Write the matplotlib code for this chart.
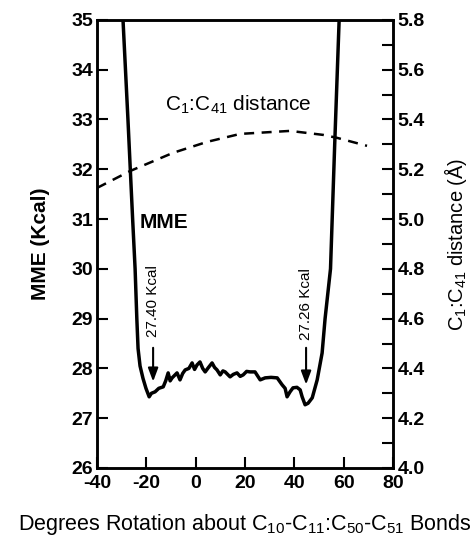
import numpy as np
import matplotlib
matplotlib.use('Agg')
import matplotlib.pyplot as plt

plt.rcParams['font.family'] = ['Liberation Sans', 'DejaVu Sans']
plt.rcParams['mathtext.default'] = 'regular'
plt.rcParams['axes.unicode_minus'] = False

# MME curve (Kcal) vs rotation angle (deg)
mme_x = [-29.5, -27.5, -25.6, -24.6, -23.9, -23.4, -22.6, -21.4, -20.2, -18.9,
         -18.0, -16.5, -15.0, -13.2, -12.2, -11.2, -10.4, -9.6, -8.6, -7.6,
         -6.4, -5.3, -4.3, -2.8, -1.5, -0.5, 0.5, 1.7, 2.8, 3.8,
         5.0, 6.6, 7.6, 8.6, 9.9, 11.0, 11.9, 13.9, 15.2, 16.7, 18.0, 19.2,
         20.6, 22.0, 24.0, 26.1, 28.1, 30.5, 33.0, 35.0, 36.2, 37.0, 38.2,
         39.4, 41.0, 42.3, 43.1, 44.3, 45.5, 47.2, 49.2, 51.2, 52.4, 54.6,
         56.3, 58.1]
mme_y = [35.0, 33.0, 31.0, 30.0, 29.0, 28.4, 28.05, 27.8, 27.6, 27.43,
         27.5, 27.53, 27.6, 27.63, 27.75, 27.91, 27.75, 27.81, 27.86, 27.91,
         27.77, 27.9, 27.97, 28.0, 28.11, 27.98, 28.07, 28.13, 28.0, 27.93,
         28.01, 28.11, 28.02, 27.97, 27.87, 27.95, 27.93, 27.83, 27.88, 27.91, 27.84, 27.87,
         27.94, 27.93, 27.93, 27.77, 27.81, 27.82, 27.81, 27.67, 27.6, 27.43, 27.53,
         27.61, 27.62, 27.57, 27.43, 27.27, 27.3, 27.41, 27.77, 28.31, 29.0, 30.0,
         32.5, 35.0]

# C1:C41 distance (angstrom)
dist_x = [-40.0, -26.6, -9.2, 4.6, 18.0, 38.2, 51.6, 57.3, 69.4]
dist_y = [5.125, 5.193, 5.266, 5.31, 5.342, 5.354, 5.338, 5.326, 5.294]

fig = plt.figure(figsize=(4.76, 5.37), dpi=100)
ax = fig.add_axes([0.204, 0.1285, 0.622, 0.8345])
ax2 = ax.twinx()

ax.plot(mme_x, mme_y, color='k', lw=2.5, solid_joinstyle='round')
ax2.plot(dist_x, dist_y, color='k', lw=1.8, ls=(0, (4, 3)))

ax.set_xlim(-40, 80)
ax.set_ylim(26, 35)
ax2.set_ylim(4.0, 5.8)

ax.set_xticks(np.arange(-40, 81, 20))
ax.set_yticks(np.arange(26, 36, 1))
ax2.set_yticks(np.arange(4.0, 5.81, 0.2))
ax2.set_yticks(np.arange(4.1, 5.8, 0.2), minor=True)
ax2.set_yticklabels(['%.1f' % v for v in np.arange(4.0, 5.81, 0.2)])

for a in (ax, ax2):
    for s in a.spines.values():
        s.set_linewidth(1.8)
ax.tick_params(direction='in', length=8, width=1.5, labelsize=14, pad=3)
ax.tick_params(axis='x', pad=5)
ax2.tick_params(direction='in', length=8, width=1.5, labelsize=14, pad=3)
ax2.tick_params(which='minor', direction='in', length=8, width=1.5)
for lab in ax.get_xticklabels() + ax.get_yticklabels() + ax2.get_yticklabels():
    lab.set_fontweight('bold')

ax.set_ylabel('MME (Kcal)', fontsize=15, fontweight='bold')
ax.yaxis.set_label_coords(-0.159, 0.5)
ax2.set_ylabel(r'C$_1$:C$_{41}$ distance (Å)', fontsize=14.5)
ax2.yaxis.set_label_coords(1.166, 0.5)
ax.set_xlabel(r'Degrees Rotation about C$_{10}$-C$_{11}$:C$_{50}$-C$_{51}$ Bonds',
              fontsize=15.5)
ax.xaxis.set_label_coords(0.5, -0.098)

ax.text(17, 33.3, r'C$_1$:C$_{41}$ distance', fontsize=15, ha='center', va='center')
ax.text(-22.6, 30.94, 'MME', fontsize=15, fontweight='bold', ha='left', va='center')

ax.text(-17.3, 29.36, '27.40 Kcal', fontsize=11, rotation=90, ha='center', va='center')
ax.annotate('', xy=(-17.3, 27.68), xytext=(-17.3, 28.47),
            arrowprops=dict(arrowstyle='-|>,head_length=0.8,head_width=0.3',
                            color='k', lw=1.5))
ax.text(44.7, 29.3, '27.26 Kcal', fontsize=11, rotation=90, ha='center', va='center')
ax.annotate('', xy=(44.7, 27.62), xytext=(44.7, 28.47),
            arrowprops=dict(arrowstyle='-|>,head_length=0.8,head_width=0.3',
                            color='k', lw=1.5))

fig.savefig('out.png', dpi=100)
